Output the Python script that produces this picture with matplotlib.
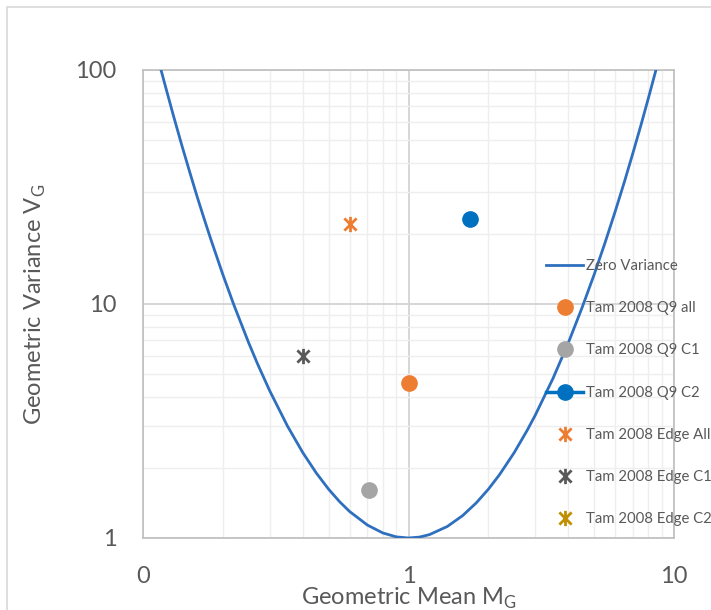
import matplotlib
matplotlib.use("Agg")
import matplotlib.pyplot as plt
from matplotlib.ticker import FuncFormatter, LogLocator, FixedLocator
from matplotlib.path import Path
from matplotlib.patches import Rectangle

plt.rcParams['font.family'] = ['Lato', 'DejaVu Sans']

# Zero-variance curve, values
curve_x = [0.11, 0.115, 0.118, 0.12, 0.13, 0.14, 0.15, 0.16, 0.17, 0.18, 0.2, 0.22, 0.25,
           0.27, 0.3, 0.35, 0.4, 0.45, 0.5, 0.55, 0.6, 0.7, 0.8, 0.9, 1.0, 1.1, 1.2, 1.4,
           1.6, 1.8, 2.0, 2.2, 2.5, 2.8, 3.0, 3.5, 4.0, 4.5, 5.0, 5.5, 6.0, 6.5, 7.0,
           7.5, 8.0, 8.5, 9.0]
curve_v = [130.6, 107.0, 96.3, 89.6, 64.2, 47.7, 36.6, 28.7, 23.1, 18.93, 13.33, 9.90, 6.83,
           5.55, 4.26, 3.01, 2.315, 1.892, 1.617, 1.430, 1.298, 1.136, 1.051, 1.011, 1.0,
           1.009, 1.034, 1.120, 1.247, 1.413, 1.617, 1.862, 2.315, 2.887, 3.343, 4.804,
           6.83, 9.61, 13.33, 18.29, 24.79, 33.2, 44.1, 57.9, 75.5, 97.5, 124.9]

series_names = ["Tam 2008 Q9 all", "Tam 2008 Q9 C1", "Tam 2008 Q9 C2",
                "Tam 2008 Edge All", "Tam 2008 Edge C1", "Tam 2008 Edge C2"]
series_x = [[1.0], [0.71], [1.71], [0.60], [0.40], []]
series_v = [[4.6], [1.6], [23.0], [22.0], [6.0], []]
series_colors = ["#ED7D31", "#A5A5A5", "#0070C0", "#ED7D31", "#595959", "#BF8F00"]

x_ticks = [0.1, 1, 10]
y_ticks = [1, 10, 100]

# Excel-style star marker: X plus vertical bar
star = Path([(-1, -1), (1, 1), (-1, 1), (1, -1), (0, -1.25), (0, 1.25)],
            [Path.MOVETO, Path.LINETO, Path.MOVETO, Path.LINETO, Path.MOVETO, Path.LINETO])

fig = plt.figure(figsize=(7.11, 6.10), dpi=100)
fig.patches.append(Rectangle((7/711, -0.1), 1.2, (603/610) + 0.1, transform=fig.transFigure,
                             fill=False, edgecolor="#d9d9d9", linewidth=1.2))
ax = fig.add_axes([143/711, 72/610, 531/711, 468/610])
ax.set_xscale('log')
ax.set_yscale('log')
ax.set_xlim(0.1, 10)
ax.set_ylim(1, 100)

ax.plot(curve_x, curve_v, color="#2E6FBF", linewidth=2.0, label="Zero Variance", zorder=3)

styles = [dict(marker='o', markersize=11, linestyle='none'),
          dict(marker='o', markersize=11, linestyle='none'),
          dict(marker='o', markersize=11, linestyle='-', linewidth=2.5),
          dict(marker=star, markersize=11, linestyle='none', markeredgewidth=2.0),
          dict(marker=star, markersize=11, linestyle='none', markeredgewidth=2.0),
          dict(marker=star, markersize=11, linestyle='none', markeredgewidth=2.0)]
for name, xs, vs, c, st in zip(series_names, series_x, series_v, series_colors, styles):
    ax.plot(xs, vs, color=c, markerfacecolor=c, markeredgecolor=c, label=name, zorder=4, **st)

ax.xaxis.set_major_locator(FixedLocator(x_ticks))
ax.yaxis.set_major_locator(FixedLocator(y_ticks))
ax.xaxis.set_minor_locator(LogLocator(base=10, subs=range(2, 10)))
ax.yaxis.set_minor_locator(LogLocator(base=10, subs=range(2, 10)))
fmt = FuncFormatter(lambda v, p: f"{v:.0f}")
ax.xaxis.set_major_formatter(fmt)
ax.yaxis.set_major_formatter(fmt)
ax.xaxis.set_minor_formatter(FuncFormatter(lambda v, p: ""))
ax.yaxis.set_minor_formatter(FuncFormatter(lambda v, p: ""))
ax.grid(True, which='major', color="#d0d0d0", linewidth=1.2)
ax.grid(True, which='minor', color="#eeeeee", linewidth=1.0)
ax.set_axisbelow(True)
ax.tick_params(which='both', length=0, labelsize=17, labelcolor="#595959")
ax.tick_params(axis='x', pad=20)
ax.tick_params(axis='y', pad=19)
for s in ax.spines.values():
    s.set_color("#bfbfbf")
    s.set_linewidth(1.2)

ax.set_xlabel(r"Geometric Mean M$_\mathregular{G}$", fontsize=17, color="#595959", labelpad=-1)
ax.set_ylabel(r"Geometric Variance V$_\mathregular{G}$", fontsize=17, color="#595959", labelpad=20)

leg = ax.legend(loc='upper left', bbox_to_anchor=(546/711, 1 - 259/610), bbox_transform=fig.transFigure,
                frameon=False, fontsize=10.7, labelspacing=1.9, handlelength=2.5,
                handletextpad=0.2, borderaxespad=0, borderpad=0)
for t in leg.get_texts():
    t.set_color("#595959")

fig.savefig("out.png", dpi=100)
